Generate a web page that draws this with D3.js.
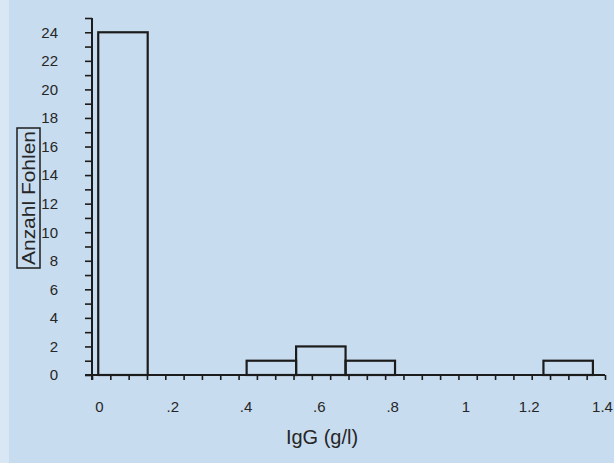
<!DOCTYPE html>
<html>
<head>
<meta charset="utf-8">
<script src="https://cdn.jsdelivr.net/npm/d3@7"></script>
<style>
  html, body { margin: 0; padding: 0; background: #c8dcef; }
  svg { display: block; }
  text { font-family: "Liberation Sans", Arial, sans-serif; }
</style>
</head>
<body>
<div id="chart"></div>
<script>
/** histogram data: bin edges (g/l) and foal counts per bin */
let binEdges = [0.017, 0.152, 0.287, 0.422, 0.557, 0.692, 0.827, 0.962, 1.097, 1.232, 1.367];
let counts = [24, 0, 0, 1, 2, 1, 0, 0, 0, 1];

/** tick values and labels */
let xLabelTicks = [0, 0.2, 0.4, 0.6, 0.8, 1, 1.2, 1.4];
let xLabels = ['0', '.2', '.4', '.6', '.8', '1', '1.2', '1.4'];
let yLabelTicks = [0, 2, 4, 6, 8, 10, 12, 14, 16, 18, 20, 22, 24];

let xTitle = 'IgG (g/l)';
let yTitle = 'Anzahl Fohlen';

let width = 614;
let height = 463;

let svg = d3.select('#chart')
  .append('svg')
  .attr('width', width)
  .attr('height', height);

/** lighter strip at the left edge of the scan */
svg.append('rect')
  .attr('x', 0).attr('y', 0)
  .attr('width', 9).attr('height', height)
  .attr('fill', '#d9e6f3');

let x = d3.scaleLinear().domain([0, 1.4]).range([92, 605]);
let y = d3.scaleLinear().domain([0, 25]).range([375, 18]);

let ink = '#1c1c1c';
let textInk = '#262626';

/** y axis: minor ticks every 1, labels every 2 */
let yAxis = d3.axisLeft(y)
  .tickValues(d3.range(0, 26, 1))
  .tickSize(7)
  .tickPadding(27)
  .tickFormat(d => yLabelTicks.includes(d) ? String(d) : '');

let gy = svg.append('g')
  .attr('transform', `translate(${x(0)},0)`)
  .attr('font-size', 15)
  .call(yAxis);
gy.select('.domain').remove();
gy.selectAll('line').attr('stroke', ink).attr('stroke-width', 1.6);
gy.selectAll('text')
  .attr('font-size', 15)
  .attr('fill', textInk);

/** x axis: minor ticks every .05, labels every .2 */
let xAxis = d3.axisBottom(x)
  .tickValues(d3.range(0, 29).map(i => +(i * 0.05).toFixed(2)))
  .tickSize(5)
  .tickPadding(21)
  .tickFormat(d => {
    let i = xLabelTicks.findIndex(v => Math.abs(v - d) < 1e-6);
    return i >= 0 ? xLabels[i] : '';
  });

let gx = svg.append('g')
  .attr('transform', `translate(0,${y(0)})`)
  .attr('font-size', 15)
  .call(xAxis);
gx.select('.domain').remove();
gx.selectAll('line').attr('stroke', ink).attr('stroke-width', 1.6);
gx.selectAll('text')
  .attr('font-size', 15)
  .attr('dx', d => d >= 1.2 ? -3 : 7)
  .attr('fill', textInk);

/** axis lines */
svg.append('line')
  .attr('x1', x(0) - 7).attr('x2', x(1.4))
  .attr('y1', y(0)).attr('y2', y(0))
  .attr('stroke', ink).attr('stroke-width', 2);
svg.append('line')
  .attr('x1', x(0)).attr('x2', x(0))
  .attr('y1', y(25)).attr('y2', y(0) + 5)
  .attr('stroke', ink).attr('stroke-width', 2);

/** histogram bars (outline only) */
let bins = counts.map((c, i) => ({ x0: binEdges[i], x1: binEdges[i + 1], n: c }))
  .filter(d => d.n > 0);

svg.selectAll('.bar')
  .data(bins)
  .enter()
  .append('rect')
  .attr('class', 'bar')
  .attr('x', d => x(d.x0))
  .attr('y', d => y(d.n))
  .attr('width', d => x(d.x1) - x(d.x0))
  .attr('height', d => y(0) - y(d.n))
  .attr('fill', 'none')
  .attr('stroke', ink)
  .attr('stroke-width', 2.2);

/** x title */
svg.append('text')
  .attr('x', 322)
  .attr('y', 444)
  .attr('text-anchor', 'middle')
  .attr('font-size', 20)
  .attr('fill', textInk)
  .text(xTitle);

/** y title inside a box */
svg.append('rect')
  .attr('x', 17).attr('y', 128)
  .attr('width', 23).attr('height', 140)
  .attr('fill', 'none')
  .attr('stroke', ink)
  .attr('stroke-width', 1.5);

svg.append('text')
  .attr('transform', 'translate(35,198) rotate(-90)')
  .attr('text-anchor', 'middle')
  .attr('font-size', 18)
  .attr('textLength', 134)
  .attr('lengthAdjust', 'spacingAndGlyphs')
  .attr('fill', textInk)
  .text(yTitle);
</script>
</body>
</html>
